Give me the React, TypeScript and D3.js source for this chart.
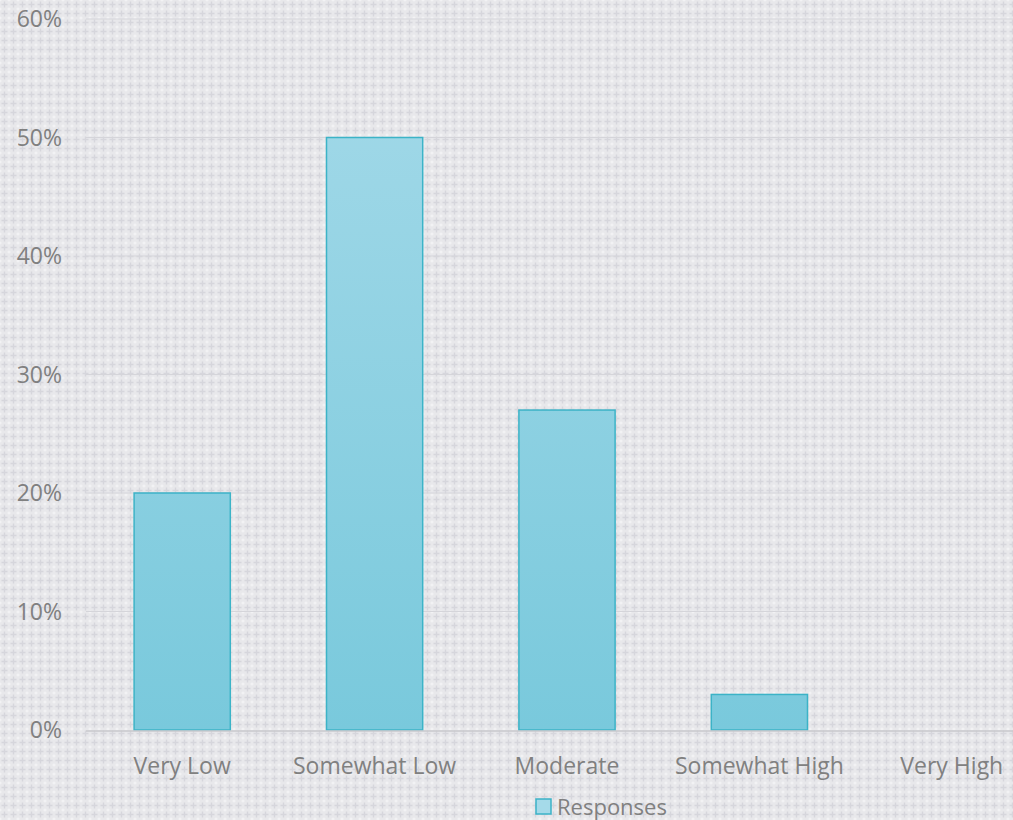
import React, { useEffect, useRef } from "react";
import * as d3 from "d3";

const categories = ["Very Low", "Somewhat Low", "Moderate", "Somewhat High", "Very High"];
const responses = [0.2, 0.5, 0.27, 0.03, 0];
const yTicks = [0, 0.1, 0.2, 0.3, 0.4, 0.5, 0.6];
const seriesName = "Responses";

const W = 1013;
const H = 820;
const FONT = "'Open Sans', Carlito, sans-serif";

const App: React.FC = () => {
  const svgRef = useRef<SVGSVGElement>(null);

  useEffect(() => {
    if (!svgRef.current) return;
    const svg = d3.select(svgRef.current);
    svg.selectAll("*").remove();

    // plot area (right side runs past the picture edge, like the original)
    const margin = { top: 19, left: 86, bottom: 90 };
    const plotRight = 1048;
    const plotBottom = H - margin.bottom;

    const defs = svg.append("defs");

    // background: small crosses
    const pat = defs
      .append("pattern")
      .attr("id", "bg")
      .attr("width", 9)
      .attr("height", 9)
      .attr("patternUnits", "userSpaceOnUse");
    pat.append("rect").attr("width", 9).attr("height", 9).attr("fill", "#e8e8eb");
    pat
      .append("path")
      .attr("d", "M4.5 1.5 V7.5 M1.5 4.5 H7.5")
      .attr("stroke", "#d6d6dc")
      .attr("stroke-width", 1.4);
    pat
      .append("path")
      .attr("d", "M0 0 V1.5 M0 7.5 V9 M9 0 V1.5 M9 7.5 V9 M0 0 H1.5 M7.5 0 H9 M0 9 H1.5 M7.5 9 H9")
      .attr("stroke", "#f3f3f5")
      .attr("stroke-width", 1.4);

    // bar gradient
    const grad = defs
      .append("linearGradient")
      .attr("id", "barGrad")
      .attr("gradientUnits", "userSpaceOnUse")
      .attr("x1", 0)
      .attr("y1", margin.top)
      .attr("x2", 0)
      .attr("y2", plotBottom);
    grad.append("stop").attr("offset", "0%").attr("stop-color", "#a5dae9");
    grad.append("stop").attr("offset", "100%").attr("stop-color", "#79c9dc");

    svg.append("rect").attr("width", W).attr("height", H).attr("fill", "url(#bg)");

    const x = d3
      .scaleBand<string>()
      .domain(categories)
      .range([margin.left, plotRight])
      .paddingInner(0.5)
      .paddingOuter(0.25);

    const y = d3.scaleLinear().domain([0, 0.6]).range([plotBottom, margin.top]);

    // gridlines
    svg
      .append("g")
      .selectAll("line")
      .data(yTicks.filter((t) => t > 0))
      .enter()
      .append("line")
      .attr("x1", margin.left)
      .attr("x2", plotRight)
      .attr("y1", (d) => y(d))
      .attr("y2", (d) => y(d))
      .attr("stroke", "#d5d5da")
      .attr("stroke-width", 1);

    // y tick labels
    svg
      .append("g")
      .selectAll("text")
      .data(yTicks)
      .enter()
      .append("text")
      .attr("x", 62)
      .attr("y", (d) => y(d))
      .attr("dy", "0.35em")
      .attr("text-anchor", "end")
      .attr("fill", "#808080")
      .style("font-family", FONT)
      .style("font-size", "23px")
      .text((d) => d3.format(".0%")(d));

    // bars
    svg
      .append("g")
      .selectAll("rect")
      .data(categories.map((c, i) => ({ c, v: responses[i] })).filter((d) => d.v > 0))
      .enter()
      .append("rect")
      .attr("x", (d) => x(d.c) ?? 0)
      .attr("y", (d) => y(d.v))
      .attr("width", x.bandwidth())
      .attr("height", (d) => plotBottom - y(d.v))
      .attr("fill", "url(#barGrad)")
      .attr("stroke", "#3cb3c7")
      .attr("stroke-width", 1.5);

    // baseline
    svg
      .append("line")
      .attr("x1", margin.left)
      .attr("x2", plotRight)
      .attr("y1", plotBottom + 1)
      .attr("y2", plotBottom + 1)
      .attr("stroke", "#c9c9cc")
      .attr("stroke-width", 1.5);

    // category labels
    svg
      .append("g")
      .selectAll("text")
      .data(categories)
      .enter()
      .append("text")
      .attr("x", (d) => (x(d) ?? 0) + x.bandwidth() / 2)
      .attr("y", 774)
      .attr("text-anchor", "middle")
      .attr("fill", "#808080")
      .style("font-family", FONT)
      .style("font-size", "23px")
      .text((d) => d);

    // legend
    const lg = svg.append("g").attr("transform", "translate(536,799)");
    lg.append("rect")
      .attr("width", 15)
      .attr("height", 15)
      .attr("fill", "url(#barGrad)")
      .attr("stroke", "#3cb3c7")
      .attr("stroke-width", 1.5);
    lg.append("text")
      .attr("x", 21)
      .attr("y", 8)
      .attr("dy", "0.35em")
      .attr("fill", "#808080")
      .style("font-family", FONT)
      .style("font-size", "22px")
      .text(seriesName);
  }, []);

  return (
    <svg
      ref={svgRef}
      width={W}
      height={H}
      style={{ position: "absolute", left: 0, top: 0, display: "block" }}
    />
  );
};

export default App;
